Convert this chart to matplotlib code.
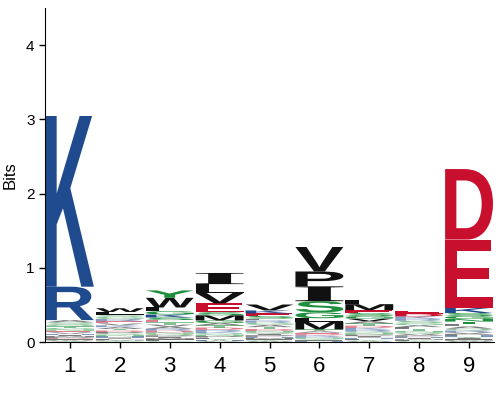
import matplotlib
matplotlib.use("Agg")
import matplotlib.pyplot as plt
from matplotlib.textpath import TextPath
from matplotlib.patches import PathPatch
from matplotlib.font_manager import FontProperties
from matplotlib.transforms import Affine2D

# bits per letter, listed from top of the stack to the bottom
pos1_letters = list("KRASQTGNEVHIMPDFCWY")
pos1_bits = [2.30, 0.45, 0.03, 0.03, 0.025, 0.02, 0.02, 0.02, 0.02, 0.02, 0.015, 0.015, 0.015, 0.015, 0.01, 0.01, 0.01, 0.01, 0.01]
pos2_letters = list("WLSGREVKATDPQNHIFMYC")
pos2_bits = [0.05, 0.035, 0.03, 0.03, 0.03, 0.03, 0.025, 0.025, 0.025, 0.02, 0.02, 0.02, 0.02, 0.02, 0.015, 0.015, 0.015, 0.01, 0.01, 0.01]
pos3_letters = list("YWLGKSETVARDNQPIMFHC")
pos3_bits = [0.10, 0.13, 0.05, 0.045, 0.04, 0.035, 0.03, 0.03, 0.03, 0.025, 0.025, 0.025, 0.02, 0.02, 0.02, 0.02, 0.015, 0.015, 0.01, 0.01]
pos4_letters = list("ILVESMGATDRKQNPFYHWC")
pos4_bits = [0.15, 0.12, 0.14, 0.12, 0.04, 0.07, 0.035, 0.03, 0.03, 0.03, 0.025, 0.02, 0.02, 0.02, 0.02, 0.015, 0.015, 0.01, 0.01, 0.01]
pos5_letters = list("VKESLRGATDNQIPHMFYCW")
pos5_bits = [0.08, 0.04, 0.035, 0.035, 0.025, 0.03, 0.03, 0.03, 0.025, 0.025, 0.02, 0.02, 0.02, 0.02, 0.015, 0.015, 0.01, 0.01, 0.01, 0.01]
pos6_letters = list("VPISGLMTAEDKRNQYFHC")
pos6_bits = [0.33, 0.20, 0.20, 0.15, 0.08, 0.05, 0.10, 0.025, 0.02, 0.02, 0.015, 0.015, 0.015, 0.015, 0.01, 0.01, 0.01, 0.01, 0.005]
pos7_letters = list("LMESGVATDKRQNPIHFYCW")
pos7_bits = [0.05, 0.08, 0.04, 0.04, 0.035, 0.035, 0.03, 0.03, 0.03, 0.025, 0.025, 0.02, 0.02, 0.02, 0.02, 0.015, 0.015, 0.01, 0.01, 0.01]
pos8_letters = list("EDKRSGALTNQVPHIMFYCW")
pos8_bits = [0.04, 0.035, 0.03, 0.03, 0.03, 0.03, 0.025, 0.025, 0.025, 0.02, 0.02, 0.02, 0.02, 0.015, 0.015, 0.01, 0.01, 0.01, 0.005, 0.005]
pos9_letters = list("DEKSGNTLAQRVPHYIFMCW")
pos9_bits = [0.95, 0.92, 0.07, 0.04, 0.04, 0.035, 0.035, 0.03, 0.03, 0.025, 0.025, 0.02, 0.02, 0.02, 0.015, 0.015, 0.01, 0.01, 0.01, 0.01]

positions = [1, 2, 3, 4, 5, 6, 7, 8, 9]
letters = [pos1_letters, pos2_letters, pos3_letters, pos4_letters, pos5_letters,
           pos6_letters, pos7_letters, pos8_letters, pos9_letters]
bits = [pos1_bits, pos2_bits, pos3_bits, pos4_bits, pos5_bits,
        pos6_bits, pos7_bits, pos8_bits, pos9_bits]

blue = "#1f4b8e"
red = "#c8102e"
green = "#1e8f3c"
black = "#111111"
colors = {}
for c in "KRH":
    colors[c] = blue
for c in "DE":
    colors[c] = red
for c in "GSTYCNQ":
    colors[c] = green
for c in "AVLIPWFM":
    colors[c] = black

sans = FontProperties(family="Liberation Sans", weight="bold")
serif = FontProperties(family="Liberation Serif", weight="bold")


def draw_letter(ax, ch, x, y, w, h):
    prop = serif if ch == "I" else sans
    tp = TextPath((0, 0), ch, size=1, prop=prop)
    bb = tp.get_extents()
    tr = Affine2D().translate(-bb.x0, -bb.y0).scale(w / bb.width, h / bb.height).translate(x - w / 2, y)
    a = 0.55 if h < 0.035 else 1.0   # tiny letters look washed out
    ax.add_patch(PathPatch(tr.transform_path(tp), facecolor=colors[ch], edgecolor="none", lw=0, alpha=a))


fig = plt.figure(figsize=(5, 4), dpi=100)
ax = fig.add_axes([0.09, 0.145, 0.898, 0.835])

for p, lets, hs in zip(positions, letters, bits):
    y = 0.0
    for ch, h in zip(lets[::-1], hs[::-1]):
        draw_letter(ax, ch, p, y, 0.96, h)
        y += h

ax.set_xlim(0.5, 9.5)
ax.set_ylim(0, 4.5)
ax.set_xticks(positions)
ax.set_xticklabels([str(p) for p in positions], fontsize=16, fontfamily="Liberation Sans")
ax.set_yticks([0, 1, 2, 3, 4])
ax.set_yticklabels(["0", "1", "2", "3", "4"], fontsize=11, fontfamily="Liberation Sans")
ax.set_ylabel("Bits", fontsize=12, fontfamily="Liberation Sans", labelpad=6)
ax.spines["top"].set_visible(False)
ax.spines["right"].set_visible(False)
ax.tick_params(axis="both", length=4, width=1)
ax.tick_params(axis="x", pad=6)

fig.savefig("out.png", dpi=100)
